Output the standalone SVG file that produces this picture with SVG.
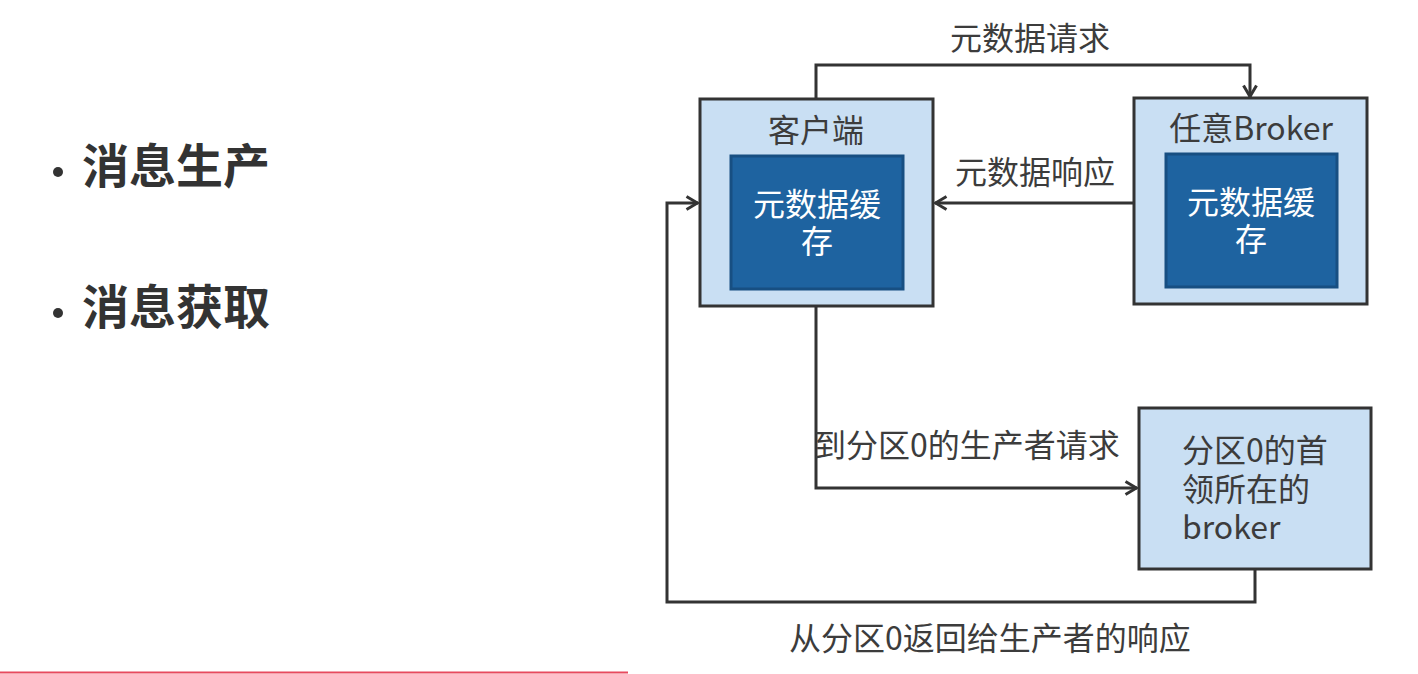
<svg xmlns="http://www.w3.org/2000/svg" width="1418" height="674" viewBox="0 0 1418 674">
<defs>
<style>
.t{font-family:"Noto Sans CJK SC","Liberation Sans",sans-serif;font-size:32px;fill:#3c3c3c}
.w{font-family:"Noto Sans CJK SC","Liberation Sans",sans-serif;font-size:32px;fill:#ffffff;text-anchor:middle}
.b{font-family:"Noto Sans CJK SC","Liberation Sans",sans-serif;font-size:47px;font-weight:bold;fill:#333333}
.box{fill:#c9dff3;stroke:#333333;stroke-width:3}
.inner{fill:#1e63a0;stroke:#174f82;stroke-width:3}
.c{fill:none;stroke:#333333;stroke-width:3;stroke-linejoin:miter}
</style>
<marker id="arr" viewBox="0 0 14 16" refX="13" refY="8" markerWidth="14" markerHeight="16" markerUnits="userSpaceOnUse" orient="auto">
<path d="M1.5,1.5 L12.5,8 L1.5,14.5" fill="none" stroke="#333333" stroke-width="3"/>
</marker>
</defs>
<rect width="1418" height="674" fill="#ffffff"/>

<g id="bullets">
<circle cx="58" cy="172" r="5" fill="#333333"/>
<text class="b" x="82" y="183">消息生产</text>
<circle cx="58" cy="313" r="5" fill="#333333"/>
<text class="b" x="82" y="324">消息获取</text>
</g>

<g id="client">
<rect class="box" x="700" y="99" width="233" height="207"/>
<text class="t" x="816" y="142" text-anchor="middle">客户端</text>
<rect class="inner" x="731" y="156" width="172" height="133"/>
<text class="w" x="817" y="216">元数据缓</text>
<text class="w" x="817" y="253">存</text>
</g>

<g id="broker">
<rect class="box" x="1134" y="98" width="233" height="206"/>
<text class="t" x="1251" y="140" text-anchor="middle">任意Broker</text>
<rect class="inner" x="1166" y="154" width="171" height="133"/>
<text class="w" x="1251" y="214">元数据缓</text>
<text class="w" x="1251" y="251">存</text>
</g>

<g id="partition">
<rect class="box" x="1139" y="408" width="232" height="161"/>
<text class="t" x="1182" y="462">分区0的首</text>
<text class="t" x="1182" y="501">领所在的</text>
<text class="t" x="1182" y="539">broker</text>
</g>

<g id="connectors">
<path class="c" d="M816,99 V65 H1250 V97" marker-end="url(#arr)"/>
<path class="c" d="M1134,203 H935" marker-end="url(#arr)"/>
<path class="c" d="M816,306 V488 H1137" marker-end="url(#arr)"/>
<path class="c" d="M1255,569 V602 H667 V203 H698" marker-end="url(#arr)"/>
</g>

<g id="labels">
<text class="t" x="1030" y="50" text-anchor="middle">元数据请求</text>
<text class="t" x="1035" y="184" text-anchor="middle">元数据响应</text>
<text class="t" x="814" y="457">到分区0的生产者请求</text>
<text class="t" x="990" y="650" text-anchor="middle">从分区0返回给生产者的响应</text>
</g>

<line x1="0" y1="672.5" x2="628" y2="672.5" stroke="#e84a5f" stroke-width="2"/>
</svg>
